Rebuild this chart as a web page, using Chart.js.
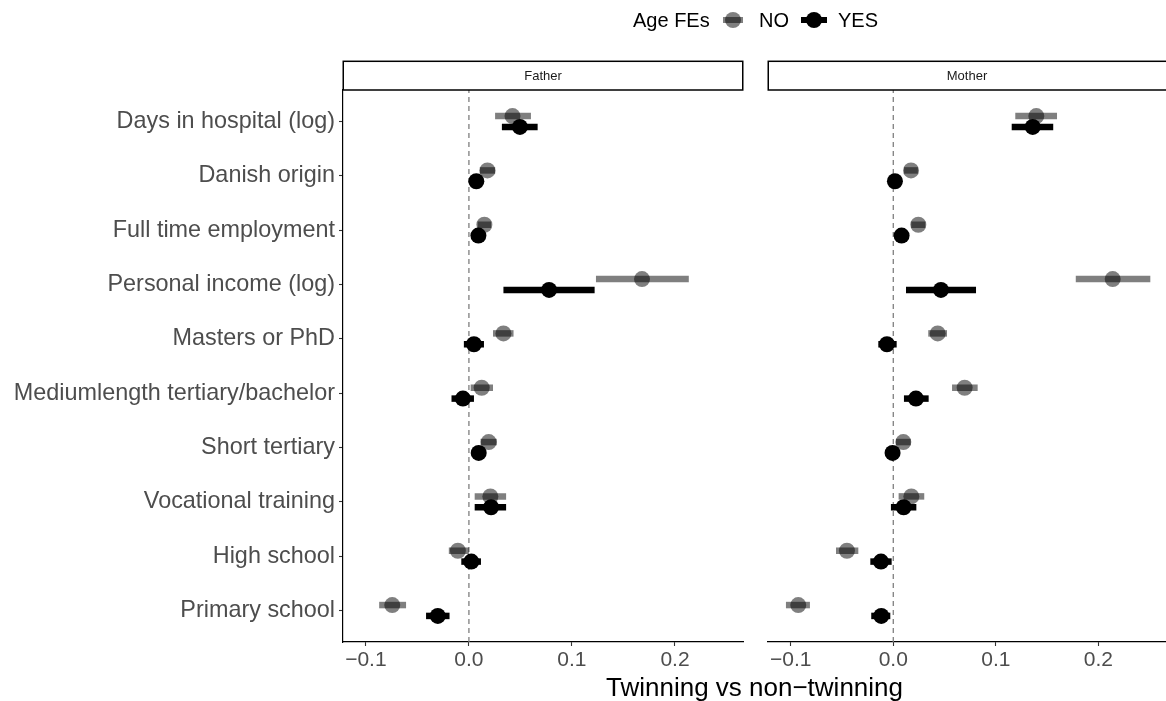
<!DOCTYPE html>
<html>
<head>
<meta charset="utf-8">
<script src="https://cdn.jsdelivr.net/npm/chart.js@4.4.1/dist/chart.umd.min.js"></script>
<style>
  html, body { margin:0; padding:0; background:#fff; }
  body { width:1166px; height:701px; position:relative; overflow:hidden; font-family:"Liberation Sans", Arial, Helvetica, sans-serif; }
  canvas { position:absolute; top:0; }
  #c1 { left:0; }
  #c2 { left:745px; }
  .lg { position:absolute; font-size:20px; color:#000; line-height:20px; top:10px; white-space:nowrap; }
  .bar { position:absolute; height:6.5px; top:16.75px; }
  .dot { position:absolute; width:16px; height:16px; border-radius:50%; top:12px; }
  #xtitle { position:absolute; left:343px; width:823px; text-align:center; top:673px; font-size:26px; line-height:28px; color:#000; white-space:nowrap; }
</style>
</head>
<body>
<canvas id="c1" width="760" height="701"></canvas>
<canvas id="c2" width="421" height="701"></canvas>

<div class="lg" style="left:633px;">Age FEs</div>
<div class="bar" style="left:723px;width:20px;background:rgba(0,0,0,0.5);"></div>
<div class="dot" style="left:725px;background:rgba(0,0,0,0.5);"></div>
<div class="lg" style="left:759px;">NO</div>
<div class="bar" style="left:801px;width:26px;background:#000;"></div>
<div class="dot" style="left:806px;background:#000;"></div>
<div class="lg" style="left:838px;">YES</div>

<div id="xtitle">Twinning vs non−twinning</div>

<script>
// ---------------- data ----------------
const categories = [
  "Days in hospital (log)",
  "Danish origin",
  "Full time employment",
  "Personal income (log)",
  "Masters or PhD",
  "Mediumlength tertiary/bachelor",
  "Short tertiary",
  "Vocational training",
  "High school",
  "Primary school"
];
const panels = ["Father", "Mother"];
const seriesNames = ["NO", "YES"];
const xTicks = [-0.1, 0.0, 0.1, 0.2];

const fatherNoEst = [0.0423, 0.0180, 0.0150, 0.1680, 0.0335, 0.0124, 0.0192, 0.0208, -0.0107, -0.0744];
const fatherNoLo  = [0.0254, 0.0105, 0.0085, 0.1233, 0.0234, 0.0017, 0.0113, 0.0056, -0.0195, -0.0871];
const fatherNoHi  = [0.0602, 0.0255, 0.0215, 0.2134, 0.0433, 0.0234, 0.0270, 0.0361,  0.0000, -0.0610];

const fatherYesEst = [0.0495, 0.0072, 0.0092, 0.0778,  0.0049, -0.0058, 0.0095, 0.0215,  0.0023, -0.0302];
const fatherYesLo  = [0.0320, 0.0020, 0.0040, 0.0335, -0.0049, -0.0169, 0.0040, 0.0056, -0.0074, -0.0416];
const fatherYesHi  = [0.0667, 0.0125, 0.0145, 0.1220,  0.0146,  0.0049, 0.0150, 0.0361,  0.0117, -0.0188];

const motherNoEst = [0.1395, 0.0173, 0.0244, 0.2140, 0.0433, 0.0696, 0.0098, 0.0176, -0.0452, -0.0927];
const motherNoLo  = [0.1190, 0.0105, 0.0175, 0.1780, 0.0341, 0.0573, 0.0026, 0.0052, -0.0559, -0.1047];
const motherNoHi  = [0.1597, 0.0240, 0.0312, 0.2507, 0.0524, 0.0823, 0.0170, 0.0302, -0.0341, -0.0813];

const motherYesEst = [0.1360,  0.0016, 0.0081, 0.0465, -0.0062, 0.0221, -0.0007,  0.0101, -0.0120, -0.0117];
const motherYesLo  = [0.1155, -0.0040, 0.0030, 0.0124, -0.0146, 0.0104, -0.0060, -0.0023, -0.0224, -0.0215];
const motherYesHi  = [0.1560,  0.0070, 0.0135, 0.0807,  0.0033, 0.0345,  0.0045,  0.0225, -0.0016, -0.0029];

// ---------------- styling ----------------
const FONT = '"Liberation Sans", Arial, Helvetica, sans-serif';
const X_MIN = -0.1222, X_MAX = 0.2660;
const Y_MIN = 0.42, Y_MAX = 10.58;
const DODGE = 0.1;
const COL_NO = 'rgba(0,0,0,0.5)';
const COL_YES = '#000000';

const yPos = categories.map((c, i) => categories.length - i);

function errorBarSets(est, lo, hi, offset, color, order) {
  return est.map((v, i) => ({
    type: 'line',
    data: [{x: lo[i], y: yPos[i] + offset}, {x: hi[i], y: yPos[i] + offset}],
    borderColor: color,
    borderWidth: 6.5,
    borderCapStyle: 'butt',
    pointRadius: 0,
    pointHoverRadius: 0,
    fill: false,
    order: order
  }));
}
function pointSet(est, offset, color, order, label) {
  return {
    type: 'scatter',
    label: label,
    data: est.map((v, i) => ({x: v, y: yPos[i] + offset})),
    backgroundColor: color,
    borderWidth: 0,
    pointRadius: 8,
    pointHoverRadius: 8,
    order: order
  };
}
function zeroLine() {
  return {
    type: 'line',
    data: [{x: 0, y: Y_MIN}, {x: 0, y: Y_MAX}],
    borderColor: '#7f7f7f',
    borderWidth: 1.3,
    borderDash: [5, 4],
    pointRadius: 0,
    fill: false,
    order: 100
  };
}
function buildDatasets(noEst, noLo, noHi, yesEst, yesLo, yesHi) {
  return [
    zeroLine(),
    ...errorBarSets(noEst, noLo, noHi, DODGE, COL_NO, 40),
    pointSet(noEst, DODGE, COL_NO, 30, seriesNames[0]),
    ...errorBarSets(yesEst, yesLo, yesHi, -DODGE, COL_YES, 20),
    pointSet(yesEst, -DODGE, COL_YES, 10, seriesNames[1])
  ];
}

const stripPlugin = {
  id: 'strip',
  afterDraw(chart, args, opts) {
    const ctx = chart.ctx, a = chart.chartArea;
    const top = 61.3, bottom = 90;
    ctx.save();
    ctx.fillStyle = '#ffffff';
    ctx.fillRect(a.left, top, a.right - a.left, bottom - top);
    ctx.strokeStyle = '#000';
    ctx.lineWidth = 1.5;
    ctx.strokeRect(a.left + 0.25, top, a.right - a.left - 0.5 + (opts.extendRight || 0), bottom - top);
    ctx.fillStyle = '#1a1a1a';
    ctx.font = '13px ' + FONT;
    ctx.textAlign = 'center';
    ctx.textBaseline = 'middle';
    const cx = opts.cx != null ? opts.cx : (a.left + a.right) / 2;
    ctx.fillText(opts.text, cx, (top + bottom) / 2 + 0.5);
    ctx.restore();
  }
};

function xScale() {
  return {
    type: 'linear',
    min: X_MIN, max: X_MAX,
    afterBuildTicks(s) { s.ticks = xTicks.map(v => ({value: v})); },
    afterFit(s) { s.height = 59; s.paddingLeft = 0; s.paddingRight = 0; },
    ticks: {
      color: '#4d4d4d',
      font: {family: FONT, size: 21},
      padding: 2,
      callback: (v) => v.toFixed(1).replace('-', '\u2212')
    },
    grid: {display: true, drawOnChartArea: false, drawTicks: true, tickLength: 4, color: '#333333', tickWidth: 1.1},
    border: {display: true, color: '#000', width: 1.2}
  };
}

function makeChart(canvas, panel, datasets, showY, yWidth, padRight, stripCx, extendRight) {
  const yScale = {
    type: 'linear',
    min: Y_MIN, max: Y_MAX,
    afterBuildTicks(s) { s.ticks = yPos.map(v => ({value: v})); },
    afterFit(s) { s.width = yWidth; s.paddingTop = 0; s.paddingBottom = 0; },
    ticks: {
      display: showY,
      color: '#4d4d4d',
      font: {family: FONT, size: 23.4},
      padding: 4,
      callback: (v) => { const i = yPos.indexOf(v); return i >= 0 ? categories[i] : ''; }
    },
    grid: {display: showY, drawOnChartArea: false, drawTicks: true, tickLength: 4, color: '#333333', tickWidth: 1.1},
    border: {display: showY, color: '#000', width: 1.2}
  };
  return new Chart(canvas, {
    data: {datasets},
    options: {
      responsive: false,
      animation: false,
      devicePixelRatio: 1,
      layout: {padding: {top: 90, right: padRight, bottom: 0, left: 0}},
      scales: {x: xScale(), y: yScale},
      plugins: {
        legend: {display: false},
        tooltip: {enabled: false},
        strip: {text: panel, cx: stripCx, extendRight: extendRight}
      },
      events: []
    },
    plugins: [stripPlugin]
  });
}

function placeChart(id, leftPx, targetLeft, targetRight, panel, datasets, showY, yWidth, stripCxAbs, extendRight) {
  let cv = document.getElementById(id);
  let w = targetRight - leftPx + (showY ? 17 : 0);
  const padR = showY ? 17 : 0;
  let chart = null;
  for (let attempt = 0; attempt < 3; attempt++) {
    cv.width = w; cv.height = 701;
    cv.style.width = w + 'px'; cv.style.height = '701px';
    chart = makeChart(cv, panel, datasets(), showY, yWidth, padR,
                      stripCxAbs != null ? stripCxAbs - leftPx : null, extendRight);
    const gotRight = chart.chartArea.right + leftPx;
    const delta = Math.round(targetRight - gotRight);
    if (Math.abs(delta) < 1) break;
    chart.destroy();
    const fresh = cv.cloneNode(false);
    cv.parentNode.replaceChild(fresh, cv);
    cv = fresh;
    w += delta;
  }
  return chart;
}

placeChart('c1', 0, 343, 743, panels[0],
  () => buildDatasets(fatherNoEst, fatherNoLo, fatherNoHi, fatherYesEst, fatherYesLo, fatherYesHi),
  true, 343, null, 0);
placeChart('c2', 745, 768, 1166, panels[1],
  () => buildDatasets(motherNoEst, motherNoLo, motherNoHi, motherYesEst, motherYesLo, motherYesHi),
  false, 23, 967, 4);
</script>
</body>
</html>
